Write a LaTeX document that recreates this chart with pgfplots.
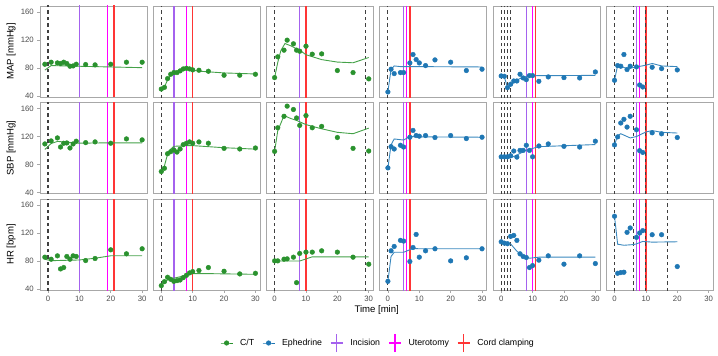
\documentclass[border=0pt]{standalone}
\usepackage{fontspec}
\setmainfont{Liberation Sans}
\usepackage{pgfplots}
\pgfplotsset{compat=1.18}

\definecolor{ct}{HTML}{2A922E}
\definecolor{eph}{HTML}{1F77B4}
\definecolor{ctfit}{HTML}{45A249}
\definecolor{ephfit}{HTML}{3A88BE}
\definecolor{incis}{HTML}{A462EE}
\definecolor{utero}{HTML}{FF00FF}
\definecolor{cordc}{HTML}{FF3535}
\definecolor{bordc}{HTML}{A8A8A8}
\definecolor{tickc}{HTML}{4D4D4D}
\definecolor{dashc}{HTML}{404040}

\newcommand\tickfont{\fontsize{7.8}{9}\selectfont}
\newcommand\titlefont{\fontsize{9.6}{11}\selectfont}
\newcommand\legfont{\fontsize{8.8}{10}\selectfont}

\pgfplotsset{
  pan/.style={
    scale only axis, width=107bp, height=91bp, anchor=north west,
    xmin=-2.55, xmax=31.55, ymin=38.6, ymax=168.6,
    xtick={0,10,20,30}, ytick={40,80,120,160},
    axis line style={draw=bordc, line width=0.9bp},
    tick style={draw=bordc, line width=0.7bp},
    tick align=outside, major tick length=2.7bp, tick pos=left,
    /pgf/number format/assume math mode=true,
    ticklabel style={font=\tickfont, text=tickc},
    xmajorticks=false, ymajorticks=false,
    ylabel style={at={(axis description cs:-0.27,0.5)}, anchor=center, font=\titlefont},
  },
  pos/.style 2 args={at={(#1bp,#2bp)}},
  showx/.style={xmajorticks=true},
  showy/.style={ymajorticks=true},
  fit/.style={line width=0.9bp, no marks, forget plot},
  pts/.style={only marks, mark=*, mark size=2.35bp, forget plot},
  ptkey/.style={legend image code/.code={\draw[mark repeat=2,mark phase=2,##1] plot coordinates {(0bp,0bp) (6bp,0bp) (12bp,0bp)};}},
  vkey/.style={legend image code/.code={\path (0bp,0bp) -- (12bp,0bp); \draw[##1] (6bp,-9bp) -- (6bp,9bp);}},
  evline/.style={line width=1.4bp, forget plot},
}

% event markers
\newcommand\inc[1]{\addplot[evline, color=incis] coordinates {(#1,0) (#1,200)};}
\newcommand\ute[1]{\addplot[evline, color=utero] coordinates {(#1,0) (#1,200)};}
\newcommand\crd[1]{\addplot[evline, color=cordc] coordinates {(#1,0) (#1,200)};}
\newcommand\dsh[1]{\addplot[forget plot, line width=1.1bp, color=dashc, dash pattern=on 3.5bp off 3bp] coordinates {(#1,0) (#1,200)};}

\newcommand\evA{\inc{10}\ute{19}\crd{21}\dsh{0}}
\newcommand\evB{\inc{4}\ute{8}\crd{10}\dsh{0}}
\newcommand\evC{\inc{8}\crd{10}\dsh{0}\dsh{29}}
\newcommand\evD{\inc{5}\ute{6}\crd{7}\dsh{0}}
\newcommand\evE{\inc{8}\ute{10}\crd{11}\dsh{0}\dsh{1}\dsh{2}\dsh{3}}
\newcommand\evF{\inc{7}\ute{8}\crd{10}\dsh{0}\dsh{6}\dsh{10}\dsh{17}}

\begin{document}
\begin{tikzpicture}
\useasboundingbox (0,0) rectangle (718bp,-356bp);

% ---------- column 1 (C/T) ----------
\begin{axis}[pan, pos={40}{-6}, showy, ylabel={MAP [mmHg]}]
\evA
\addplot[ctfit, fit] coordinates {(-1,77) (1,83.5) (5,83) (10,82.5) (20,81.5) (30,80.5)};
\addplot[ct, pts] coordinates {(-1,85.4) (1,88.3) (3,87.3) (4,86.4) (5,88.3) (6,86.4) (7,82.6) (8,83) (9,85.4) (12,85) (15,84.5) (20,85.4) (25,88.3) (30,88.3)};
\end{axis}
\begin{axis}[pan, pos={40}{-102.5}, showy, ylabel={SBP [mmHg]}]
\evA
\addplot[ctfit, fit] coordinates {(-1,101.5) (1,110) (3,113) (10,110.5) (20,111) (30,111)};
\addplot[ct, pts] coordinates {(-1,109.4) (1,113.7) (3,118) (4,105) (5,110.4) (6,110.8) (7,103.6) (8,109.4) (9,113.3) (12,111.3) (15,112.3) (20,110.4) (25,116.6) (30,115.2)};
\end{axis}
\begin{axis}[pan, pos={40}{-199}, showy, showx, ylabel={HR [bpm]}]
\evA
\addplot[ctfit, fit] coordinates {(-1,82.5) (1,80.5) (10,81.5) (15,84) (20,87.5) (30,87.5)};
\addplot[ct, pts] coordinates {(-1,85.5) (1,82.6) (3,87.4) (4,68.7) (5,70.7) (6,86.5) (7,82.6) (8,87.4) (9,86.5) (12,80.7) (15,83.6) (20,96) (25,90.3) (30,97.5)};
\end{axis}

% ---------- column 2 (C/T) ----------
\begin{axis}[pan, pos={153.3}{-6}]
\evB
\addplot[ctfit, fit] coordinates {(0,50) (1,53) (2,63) (3,70) (4,73) (6,75) (8,79) (10,77) (12,75.5) (20,73) (30,71.5)};
\addplot[ct, pts] coordinates {(0,50) (1,52.4) (2,64.9) (3,71.1) (4,73.5) (5,73.5) (6,75.9) (7,78.7) (8,79.7) (9,78.7) (10,77.3) (12,76.8) (15,75.4) (20,69.7) (25,69.7) (30,71.1)};
\end{axis}
\begin{axis}[pan, pos={153.3}{-102.5}]
\evB
\addplot[ctfit, fit] coordinates {(0,70) (1,78) (2,95) (3,102) (4,106) (8,107) (10,107) (20,104) (30,102)};
\addplot[ct, pts] coordinates {(0,70) (1,74.7) (2,95.4) (3,98.3) (4,100.7) (5,97.8) (6,102.2) (7,108.4) (8,110.4) (9,112.3) (10,110.4) (12,112.3) (15,110.4) (20,103.1) (25,102.2) (30,103.6)};
\end{axis}
\begin{axis}[pan, pos={153.3}{-199}, showx]
\evB
\addplot[ctfit, fit] coordinates {(0,45) (1,50) (2,53) (4,55.5) (6,57.5) (8,60) (10,62) (15,62) (30,61)};
\addplot[ct, pts] coordinates {(0,44.8) (1,50.5) (2,56.8) (3,53.9) (4,51) (5,52) (6,52.9) (7,56.3) (8,59.6) (9,63) (10,64.9) (12,66.4) (15,70.7) (20,65.4) (25,61.6) (30,62.5)};
\end{axis}

% ---------- column 3 (C/T) ----------
\begin{axis}[pan, pos={266.6}{-6}]
\evC
\addplot[ctfit, fit] coordinates {(0,66) (1,88) (2,105) (3.3,115) (5,112) (8,105.5) (10,99) (15,92) (20,88.5) (25,87.5) (30,95)};
\addplot[ct, pts] coordinates {(0,66.3) (1,96) (3,105.5) (4,119.8) (6,114.6) (7,105.5) (8,104) (10,111.2) (12,99.8) (15,100.2) (20,76.4) (25,73.5) (30,64.5)};
\end{axis}
\begin{axis}[pan, pos={266.6}{-102.5}]
\evC
\addplot[ctfit, fit] coordinates {(0,99) (1,128) (3,150) (5,146) (7,143) (10,137) (15,131) (20,126) (25,124) (30,132)};
\addplot[ct, pts] coordinates {(0,98.8) (1,132.5) (3,148.9) (4,163.4) (6,158.6) (7,146.5) (8,135.9) (10,149.9) (12,132.5) (15,134.5) (20,118.6) (25,103.1) (30,99.3)};
\end{axis}
\begin{axis}[pan, pos={266.6}{-199}, showx, xlabel={Time [min]},
  xlabel style={at={(axis description cs:1.029,-0.225)}, anchor=center, font=\titlefont}]
\evC
\addplot[ctfit, fit] coordinates {(0,80) (8,80) (10,83) (12,86) (20,86) (30,86)};
\addplot[ct, pts] coordinates {(0,80.2) (1,80.2) (3,82.6) (4,83.1) (6,85.5) (7,49.1) (8,90.8) (10,92.7) (12,92.7) (15,94.6) (20,92.7) (25,85.5) (30,75.5)};
\end{axis}

% ---------- column 4 (Ephedrine) ----------
\begin{axis}[pan, pos={379.9}{-6}]
\evD
\addplot[ephfit, fit] coordinates {(0,46) (1,78) (2,83) (4,82) (10,82) (30,81.5)};
\addplot[eph, pts] coordinates {(0,45.8) (1,78.3) (2,72) (4,73.5) (5,73.5) (7,87.3) (8,99.3) (9,92.1) (10,87.3) (12,83.5) (15,91.6) (20,88.3) (25,76.4) (30,78.3)};
\end{axis}
\begin{axis}[pan, pos={379.9}{-102.5}]
\evD
\addplot[ephfit, fit] coordinates {(0,75) (1,108) (2,116.5) (5,115) (7,120) (10,119.5) (30,119)};
\addplot[eph, pts] coordinates {(0,75.2) (1,105.5) (2,102.2) (4,107.5) (5,105) (7,119) (8,128.7) (9,121.4) (10,120.5) (12,121.4) (15,118.6) (20,121.4) (25,117.1) (30,119)};
\end{axis}
\begin{axis}[pan, pos={379.9}{-199}, showx]
\evD
\addplot[ephfit, fit] coordinates {(0,51) (1,86.5) (2,92.5) (5,92.5) (8,98) (10,97.5) (30,97.5)};
\addplot[eph, pts] coordinates {(0,51) (1,94.6) (2,100.8) (4,109.5) (5,108.5) (7,79.3) (8,99.3) (9,118) (10,85.5) (12,94.6) (15,97.5) (20,80.2) (25,84.6) (30,97.5)};
\end{axis}

% ---------- column 5 (Ephedrine) ----------
\begin{axis}[pan, pos={493.2}{-6}]
\evE
\addplot[ephfit, fit] coordinates {(0,68.5) (1,67) (2,52.5) (3,56) (4,59.5) (5,62.5) (6,65) (8,68) (10,69) (30,69.5)};
\addplot[eph, pts] coordinates {(0,68.7) (1,68.2) (2,52) (3,56.8) (4,61.5) (5,61.5) (6,71.1) (7,65.8) (8,63.4) (9,69.2) (10,69.2) (12,61) (15,67.3) (20,66.3) (25,65.8) (30,74.4)};
\end{axis}
\begin{axis}[pan, pos={493.2}{-102.5}]
\evE
\addplot[ephfit, fit] coordinates {(0,89.5) (3,89.5) (5,93.5) (8,100.5) (12,105.5) (30,108.5)};
\addplot[eph, pts] coordinates {(0,91) (1,91) (2,91) (3,92.5) (4,99.3) (5,90.6) (6,100.2) (7,100.2) (8,107.5) (9,100.2) (10,91) (12,106.5) (15,109.4) (20,106) (25,105) (30,113.3)};
\end{axis}
\begin{axis}[pan, pos={493.2}{-199}, showx]
\evE
\addplot[ephfit, fit] coordinates {(0,107.5) (3,104.5) (5,94) (7,86.5) (9,84) (12,85.5) (30,85.5)};
\addplot[eph, pts] coordinates {(0,107.5) (1,105.6) (2,104.7) (3,115.2) (4,116.6) (5,109.5) (6,90.3) (7,86.5) (8,85) (9,70.7) (10,73.5) (12,81.2) (15,87.4) (20,75.5) (25,87.4) (30,76.4)};
\end{axis}

% ---------- column 6 (Ephedrine) ----------
\begin{axis}[pan, pos={606.5}{-6}]
\evF
\addplot[ephfit, fit] coordinates {(0,62.5) (1,84) (2,82.5) (4,79) (7,81.5) (10,84) (12,86.5) (15,83) (20,82)};
\addplot[eph, pts] coordinates {(0,62.5) (1,83.5) (2,82.6) (3,99.3) (4,77.8) (5,82.6) (7,81.6) (8,55.8) (9,52.9) (12,81.1) (15,79.2) (20,77.3)};
\end{axis}
\begin{axis}[pan, pos={606.5}{-102.5}]
\evF
\addplot[ephfit, fit] coordinates {(0,108) (1,121.5) (2,124) (5,118) (7,120) (10,126.5) (12,128.5) (15,126) (20,125)};
\addplot[eph, pts] coordinates {(0,108) (1,119.5) (2,139.3) (3,144.6) (4,133.5) (5,148.9) (7,129.6) (8,99.8) (9,97.3) (12,125.3) (15,123.9) (20,118.6)};
\end{axis}
\begin{axis}[pan, pos={606.5}{-199}, showx]
\evF
\addplot[ephfit, fit] coordinates {(0,144) (1,104) (3,102.5) (6,103.5) (7,104.5) (9,108) (12,107) (20,107.5)};
\addplot[eph, pts] coordinates {(0,144) (1,62.5) (2,63.5) (3,64) (4,121) (5,127.2) (7,113.8) (8,120) (9,123.4) (12,117.6) (15,117.6) (20,72.1)};
\end{axis}

% ---------- legend ----------
\begin{axis}[hide axis, scale only axis, width=10bp, height=10bp, at={(378bp,-343bp)}, anchor=center,
  xmin=0, xmax=1, ymin=0, ymax=1, legend columns=5,
  legend style={at={(0.5,0.5)}, anchor=center, draw=none, fill=none, font=\legfont,
    /tikz/every odd column/.append style={column sep=5bp},
    /tikz/every even column/.append style={column sep=6bp}}]
\addlegendimage{ptkey, ct, mark=*, mark size=2.1bp, line width=0.9bp}
\addlegendentry{C/T}
\addlegendimage{ptkey, eph, mark=*, mark size=2.1bp, line width=0.9bp}
\addlegendentry{Ephedrine}
\addlegendimage{vkey, color=incis, line width=1.4bp}
\addlegendentry{Incision}
\addlegendimage{vkey, color=utero, line width=1.4bp}
\addlegendentry{Uterotomy}
\addlegendimage{vkey, color=cordc, line width=1.4bp}
\addlegendentry{Cord clamping}
\end{axis}
\end{tikzpicture}
\end{document}
